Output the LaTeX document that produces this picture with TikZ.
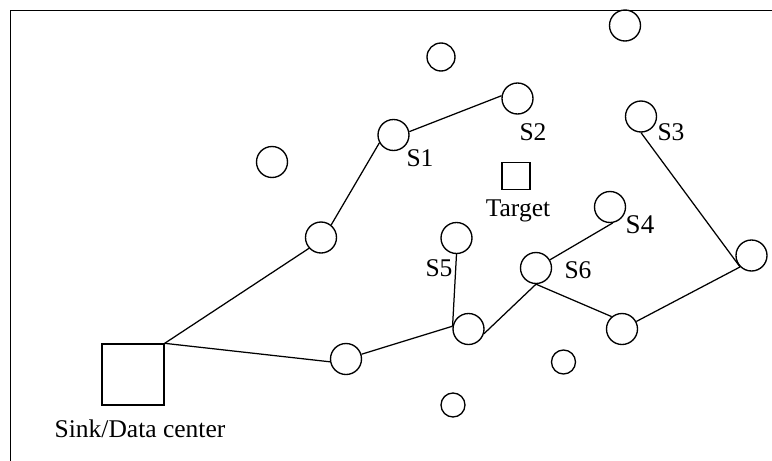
\documentclass[tikz,border=0pt]{standalone}
\usepackage{fontspec}
\setmainfont{Liberation Serif}
\begin{document}
\begin{tikzpicture}[x=1pt,y=-1pt,
  sensor/.style={circle,draw,line width=1.35pt,minimum size=31pt,inner sep=0pt},
  smallsensor/.style={sensor,minimum size=24pt},
  midsensor/.style={sensor,minimum size=28pt},
  link/.style={line width=1.25pt},
  lbl/.style={anchor=base,inner sep=0pt,font=\fontsize{25.5}{30}\selectfont}]
\useasboundingbox (0,0) rectangle (772,461);
% field border (left and top edges)
\draw[line width=1.7pt] (10.5,461) -- (10.5,10.5) -- (772,10.5);

% sink and target
\node[draw,line width=1.35pt,minimum width=62pt,minimum height=61pt,inner sep=0pt] (sink) at (133,374.5) {};
\node[draw,line width=1.35pt,minimum width=28pt,minimum height=27pt,inner sep=0pt] (tgt) at (516,176) {};

% sensor nodes
\node[sensor] (a) at (321,237.5) {};
\node[sensor] (b) at (346,359) {};
\node[sensor] (c) at (468.5,329) {};
\node[sensor] (d) at (622,329) {};
\node[sensor] (r) at (751.5,255.5) {};
\node[sensor] (s1) at (393.5,135) {};
\node[sensor] (s2) at (517.5,98.5) {};
\node[sensor] (s3) at (641,116.5) {};
\node[sensor] (s4) at (610,207) {};
\node[sensor] (s5) at (456.5,238) {};
\node[sensor] (s6) at (536,268) {};

% idle sensors
\node[sensor] (n1) at (272,162) {};
\node[sensor] (n2) at (625,25.5) {};
\node[midsensor] (n3) at (441,57) {};
\node[smallsensor] (n4) at (563.5,362) {};
\node[smallsensor] (n5) at (453,405) {};

% routing paths
\draw[link] (sink.north east) -- (a.222);
\draw[link] (a.51) -- (s1.209);
\draw[link] (s1.12) -- (s2.170);
\draw[link] (sink.north east) -- (b.190);
\draw[link] (b) -- (c.170);
\draw[link] (s5.south) -- (c.170);
\draw[link] (c.-17) -- (s6.south);
\draw[link] (s6) -- (s4.-80);
\draw[link] (s6.south) -- (d.130);
\draw[link] (d) -- (r.225);
\draw[link] (s3.south) -- (r.225);

% labels
\node[lbl] (ls1) at (420,166.5) {S1};
\node[lbl] (ls2) at (533,140) {S2};
\node[lbl] (ls3) at (671,140.5) {S3};
\node[lbl,font=\fontsize{27}{30}\selectfont] (ls4) at (640,233) {S4};
\node[lbl] (ls5) at (439,276.5) {S5};
\node[lbl] (ls6) at (578,278.5) {S6};
\node[lbl] (ltgt) at (518,216.5) {Target};
\node[lbl] (lsink) at (140,437) {Sink/Data center};
\end{tikzpicture}
\end{document}
